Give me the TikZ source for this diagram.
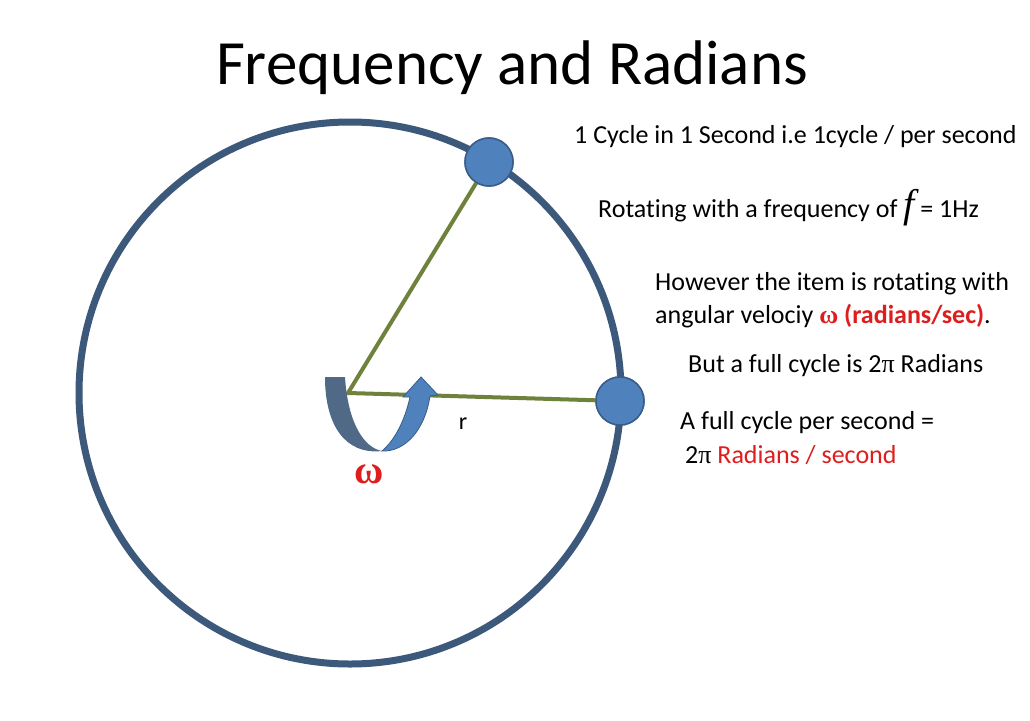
\documentclass[tikz,border=0pt]{standalone}
\usepackage{fontspec}
\setmainfont[Ligatures=NoCommon]{Carlito}
\newfontfamily\serifgr{Liberation Serif}
\definecolor{ring}{RGB}{60,88,122}
\definecolor{dotf}{RGB}{79,129,189}
\definecolor{dotb}{RGB}{56,93,138}
\definecolor{rod}{RGB}{110,130,60}
\definecolor{myred}{RGB}{222,30,30}
\begin{document}
\begin{tikzpicture}[x=1pt,y=-1pt,
  txt/.style={anchor=west,inner sep=0pt,font=\fontsize{26}{30}\selectfont},
  dot/.style={circle,fill=dotf,draw=dotb,line width=1.5pt,minimum size=48pt,inner sep=0pt}]
\useasboundingbox[fill=white] (0,0) rectangle (1030,720);
\node[font=\fontsize{63}{70}\selectfont,inner sep=0pt] (title) at (512,68) {Frequency and Radians};
\draw[ring,line width=7pt] (350,393) circle[radius=271];
\coordinate (c) at (348,393);
\node[dot] (d1) at (489,162) {};
\node[dot] (d2) at (620,401) {};
\draw[rod,line width=4pt] (d1) -- (c) -- (d2);
\node[dot] at (489,162) {};
\node[dot] at (620,401) {};
% omega arrow
\fill[ring!90] (325,377) -- (345,377) .. controls (348,425) and (365,448) .. (382,451) .. controls (345,455) and (325,425) .. cycle;
\fill[dotf,draw=dotb,line width=0.8pt] (382,451) .. controls (395,440) and (405,420) .. (410,397) -- (403,397) -- (421,377) -- (438,395) -- (430,396) .. controls (425,430) and (405,452) .. (382,451) -- cycle;
\node[font=\fontsize{24}{28}\selectfont] (r) at (463,424) {r};
\node[font=\serifgr\bfseries\fontsize{40}{44}\selectfont,text=myred] (w) at (369,474) {ω};
\node[txt] (t1) at (574,137) {1 Cycle in 1 Second i.e 1cycle / per second};
\node[txt] (t2) at (598,208) {Rotating with a frequency of {\serifgr\itshape\fontsize{40}{42}\selectfont f} = 1Hz};
\node[txt] (t3) at (655,284) {However the item is rotating with};
\node[txt] (t4) at (655,316) {angular velociy {\color{myred}\bfseries{\serifgr ω} (radians/sec)}.};
\node[txt] (t5) at (688,366) {But a full cycle is 2{\serifgr π} Radians};
\node[txt] (t6) at (680,423) {A full cycle per second =};
\node[txt] (t7) at (685,455) {2{\serifgr π} {\color{myred}Radians / second}};
\end{tikzpicture}
\end{document}
